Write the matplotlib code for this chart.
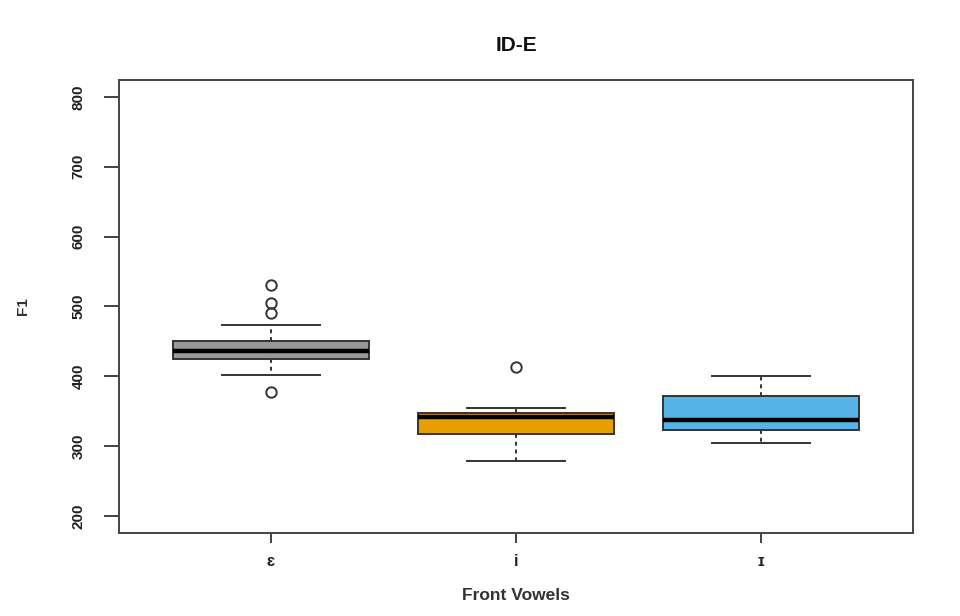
import matplotlib
matplotlib.use('Agg')
import matplotlib.pyplot as plt

plt.rcParams['font.family'] = ['Liberation Sans', 'DejaVu Sans']

vowels = ["ɛ", "i", "ɪ"]
colors = ["#999999", "#E69F00", "#56B4E9"]

# five-number summaries of F1 per vowel
q1      = [425, 318, 323]
medians = [436, 342, 338]
q3      = [450, 348, 372]
whislo  = [402, 279, 304]
whishi  = [474, 355, 400]
fliers  = [[530, 505, 490, 377], [414], []]

stats = []
for i, v in enumerate(vowels):
    stats.append(dict(label=v, q1=q1[i], med=medians[i], q3=q3[i],
                      whislo=whislo[i], whishi=whishi[i], fliers=fliers[i]))

fig = plt.figure(figsize=(9.6, 6.16), dpi=100)
ax = fig.add_axes([0.124, 0.135, 0.827, 0.735])

edge = "#333333"
bp = ax.bxp(stats, positions=[1, 2, 3], widths=0.8, patch_artist=True,
            boxprops=dict(edgecolor=edge, linewidth=1.4),
            medianprops=dict(color="black", linewidth=3.2),
            whiskerprops=dict(color=edge, linewidth=1.4, linestyle=(0, (2, 2))),
            capprops=dict(color=edge, linewidth=1.4),
            capwidths=0.4,
            flierprops=dict(marker="o", markersize=7.5, markerfacecolor="none",
                            markeredgecolor=edge, markeredgewidth=1.4))
for patch, c in zip(bp["boxes"], colors):
    patch.set_facecolor(c)

ax.set_xlim(0.38, 3.62)
ax.set_ylim(176, 824)
ax.set_yticks([200, 300, 400, 500, 600, 700, 800])
ax.set_xticks([1, 2, 3])
ax.set_xticklabels(vowels, fontsize=12, fontweight="bold", color="#222222")
for lab in ax.get_yticklabels():
    lab.set_rotation(90)
    lab.set_verticalalignment("center")
    lab.set_fontsize(11)
    lab.set_fontweight("bold")
    lab.set_color("#222222")
ax.tick_params(axis="x", length=7, width=1.3, color=edge, pad=8)
ax.tick_params(axis="y", length=11, width=1.3, color=edge, pad=13)
for s in ax.spines.values():
    s.set_color("#444444")
    s.set_linewidth(1.4)

ax.set_title("ID-E", fontsize=15, fontweight="bold", pad=21, color="#111111")
ax.set_xlabel("Front Vowels", fontsize=12.5, fontweight="bold", labelpad=14,
              color="#333333")
ax.set_ylabel("F1", fontsize=11, fontweight="bold", labelpad=30, color="#333333")

plt.savefig("out.png", dpi=100)
plt.close()
